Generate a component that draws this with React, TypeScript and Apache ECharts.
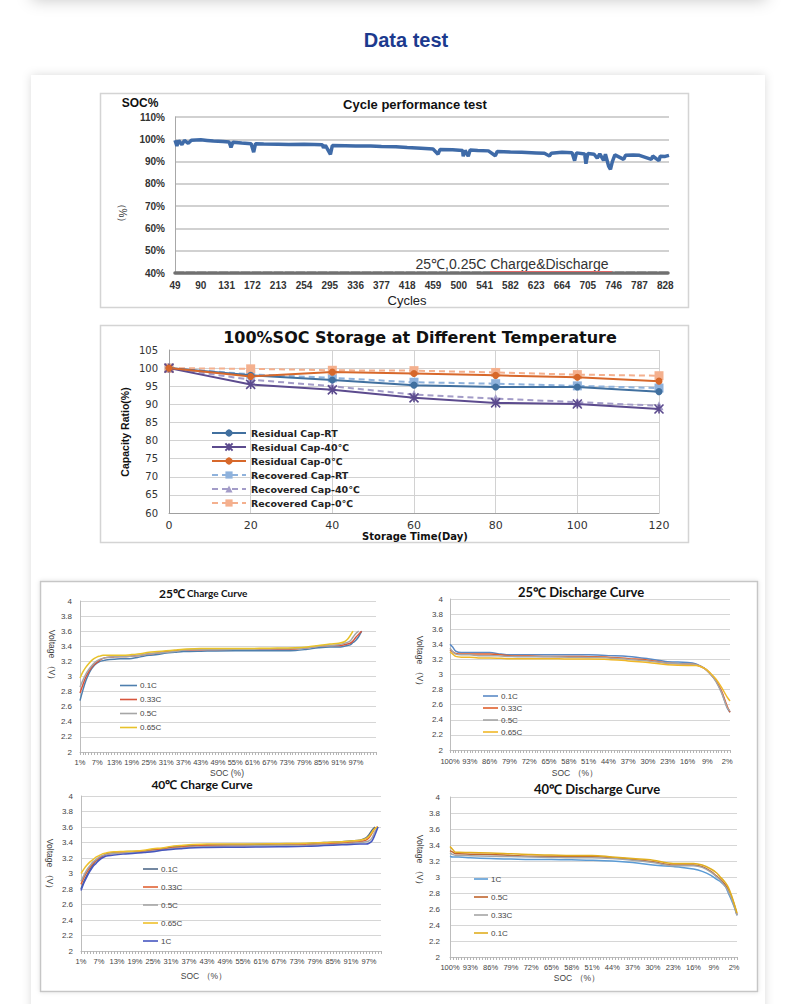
import React, { useEffect, useRef } from 'react';
import * as echarts from 'echarts';

// ---------------- fonts ----------------
const ARIAL = "'Liberation Sans', Arial, sans-serif";
const VERDANA = "'DejaVu Sans', Verdana, sans-serif";
const NARROW = "'Liberation Sans Narrow', 'Liberation Sans', sans-serif";
const CALIBRI = "Lato, 'Open Sans', sans-serif";

// ---------------- Chart 1: cycle performance ----------------
const CYCLE_FIRST = 49;
const CYCLE_LAST = 834;
const CYCLE_CATEGORIES: string[] = Array.from({ length: CYCLE_LAST - CYCLE_FIRST + 1 }, (_, i) => String(CYCLE_FIRST + i));
const CYCLE_POINTS = [49, 52, 55, 60, 64, 70, 75, 90, 100, 110, 125, 135, 138, 141, 155, 170, 174, 177, 190, 213, 230, 254, 270, 283, 285, 288, 296, 299, 320, 336, 360, 377, 400, 418, 440, 459, 467, 470, 490, 506, 507, 510, 515, 518, 530, 547, 558, 561, 582, 600, 623, 636, 644, 647, 664, 680, 684, 687, 700, 702, 705, 715, 720, 724, 730, 733, 738, 741, 744, 748, 762, 765, 777, 787, 806, 808, 818, 820, 828, 834];
const CYCLE_SOC = [99.6, 97.0, 99.4, 97.6, 99.5, 98.2, 99.6, 99.8, 99.5, 99.2, 99.0, 98.8, 96.3, 98.7, 98.3, 98.0, 94.2, 98.0, 97.9, 97.8, 97.7, 97.8, 97.7, 97.6, 96.2, 97.3, 93.2, 97.2, 97.1, 97.0, 97.0, 96.8, 96.6, 96.3, 96.0, 95.6, 93.3, 95.4, 95.3, 95.0, 92.4, 95.0, 92.4, 95.2, 95.0, 94.8, 92.6, 94.5, 94.3, 94.2, 93.9, 93.7, 92.5, 93.7, 94.2, 94.0, 90.4, 93.9, 93.4, 89.0, 93.6, 93.3, 91.5, 93.5, 90.5, 93.3, 88.0, 86.5, 90.0, 93.0, 91.0, 92.8, 93.0, 92.8, 91.0, 92.5, 90.4, 92.4, 92.3, 92.8];

// ---------------- Chart 2: storage ----------------
const STORAGE_DAYS = [0, 20, 40, 60, 80, 100, 120];
const RESIDUAL_RT = [100, 98.0, 96.7, 95.3, 94.8, 94.8, 93.5];
const RESIDUAL_40 = [100, 95.5, 94.0, 91.8, 90.4, 90.1, 88.7];
const RESIDUAL_0 = [100, 97.7, 98.9, 98.5, 98.0, 97.5, 96.4];
const RECOVERED_RT = [100, 98.3, 97.3, 96.1, 95.7, 95.1, 94.5];
const RECOVERED_40 = [100, 96.8, 95.0, 92.7, 91.6, 90.6, 89.6];
const RECOVERED_0 = [100, 99.8, 99.4, 99.3, 98.8, 98.2, 97.9];

// ---------------- Chart 3: 25C charge ----------------
const C25C_CATS = Array.from({ length: 104 }, (_, i) => `${i + 1}%`);
const C25C_LAST_LABEL = 97;
const C25C_SOC = [1, 2, 3, 4, 5, 6, 7, 8, 9, 10, 13, 16, 19, 22, 25, 28, 31, 34, 37, 43, 55, 67, 76, 80, 84, 88, 91, 93, 94, 95, 96, 97, 98, 99];
const C25C_01 = [2.68, 2.82, 2.94, 3.03, 3.10, 3.15, 3.18, 3.20, 3.21, 3.22, 3.23, 3.235, 3.24, 3.26, 3.28, 3.29, 3.31, 3.32, 3.33, 3.335, 3.34, 3.34, 3.345, 3.36, 3.38, 3.39, 3.39, 3.40, 3.41, 3.42, 3.45, 3.48, 3.53, 3.60];
const C25C_033 = [2.78, 2.89, 2.99, 3.06, 3.12, 3.16, 3.19, 3.22, 3.24, 3.25, 3.26, 3.265, 3.27, 3.28, 3.30, 3.31, 3.33, 3.34, 3.35, 3.355, 3.36, 3.36, 3.365, 3.38, 3.40, 3.41, 3.41, 3.42, 3.43, 3.44, 3.47, 3.52, 3.56, 3.60];
const C25C_05 = [2.86, 2.95, 3.03, 3.09, 3.14, 3.18, 3.21, 3.23, 3.24, 3.25, 3.26, 3.26, 3.27, 3.28, 3.30, 3.31, 3.32, 3.33, 3.35, 3.36, 3.36, 3.365, 3.37, 3.38, 3.40, 3.41, 3.42, 3.44, 3.45, 3.47, 3.52, 3.57, 3.60, null];
const C25C_065 = [2.98, 3.06, 3.12, 3.17, 3.21, 3.24, 3.26, 3.27, 3.28, 3.28, 3.28, 3.28, 3.29, 3.30, 3.32, 3.33, 3.34, 3.35, 3.36, 3.37, 3.37, 3.375, 3.38, 3.39, 3.41, 3.43, 3.44, 3.46, 3.49, 3.54, 3.60, null, null, null];

// ---------------- Chart 4: 25C discharge ----------------
const C25D_CATS = Array.from({ length: 100 }, (_, i) => `${100 - i}%`);
const C25D_SOC = [100, 99, 98, 96, 93, 90, 86, 82, 79, 72, 65, 58, 51, 44, 37, 30, 23, 16, 13, 10, 8, 6, 4, 2, 1];
const C25D_01 = [3.40, 3.36, 3.31, 3.29, 3.29, 3.29, 3.29, 3.27, 3.26, 3.26, 3.26, 3.26, 3.26, 3.25, 3.24, 3.21, 3.17, 3.16, 3.14, 3.08, 3.01, 2.92, 2.77, 2.56, 2.50];
const C25D_033 = [3.33, 3.30, 3.28, 3.27, 3.27, 3.27, 3.27, 3.26, 3.25, 3.245, 3.24, 3.24, 3.235, 3.23, 3.21, 3.19, 3.15, 3.14, 3.13, 3.08, 3.01, 2.92, 2.78, 2.58, 2.50];
const C25D_05 = [3.35, 3.30, 3.27, 3.26, 3.26, 3.25, 3.25, 3.245, 3.24, 3.235, 3.235, 3.23, 3.225, 3.22, 3.20, 3.18, 3.15, 3.14, 3.13, 3.08, 3.01, 2.91, 2.76, 2.56, 2.52];
const C25D_065 = [3.30, 3.27, 3.24, 3.23, 3.23, 3.22, 3.22, 3.215, 3.21, 3.21, 3.21, 3.205, 3.205, 3.20, 3.18, 3.16, 3.13, 3.12, 3.12, 3.08, 3.02, 2.94, 2.83, 2.70, 2.65];

// ---------------- Chart 5: 40C charge ----------------
const C40C_CATS = Array.from({ length: 101 }, (_, i) => `${i + 1}%`);
const C40C_SOC = [1, 2, 3, 4, 5, 6, 7, 8, 9, 10, 12, 15, 19, 22, 25, 28, 31, 34, 37, 43, 55, 67, 76, 82, 88, 91, 94, 96, 97, 98, 99, 100];
const C40C_01 = [2.80, 2.90, 2.98, 3.05, 3.11, 3.16, 3.19, 3.22, 3.24, 3.26, 3.27, 3.28, 3.285, 3.29, 3.31, 3.32, 3.34, 3.35, 3.36, 3.37, 3.375, 3.38, 3.385, 3.40, 3.41, 3.42, 3.43, 3.46, 3.50, 3.56, 3.60, null];
const C40C_033 = [2.86, 2.95, 3.02, 3.08, 3.13, 3.17, 3.20, 3.22, 3.24, 3.25, 3.26, 3.27, 3.275, 3.28, 3.30, 3.31, 3.33, 3.34, 3.35, 3.36, 3.36, 3.365, 3.37, 3.38, 3.39, 3.40, 3.41, 3.43, 3.46, 3.52, 3.58, 3.60];
const C40C_05 = [2.90, 2.98, 3.05, 3.10, 3.15, 3.18, 3.21, 3.23, 3.24, 3.25, 3.26, 3.265, 3.27, 3.275, 3.29, 3.30, 3.32, 3.33, 3.34, 3.35, 3.355, 3.36, 3.365, 3.37, 3.38, 3.39, 3.40, 3.41, 3.42, 3.46, 3.54, 3.60];
const C40C_065 = [3.00, 3.06, 3.11, 3.15, 3.18, 3.21, 3.23, 3.25, 3.26, 3.27, 3.28, 3.285, 3.29, 3.30, 3.32, 3.33, 3.35, 3.36, 3.37, 3.38, 3.38, 3.385, 3.39, 3.40, 3.41, 3.42, 3.43, 3.45, 3.48, 3.53, 3.58, 3.60];
const C40C_1 = [2.78, 2.88, 2.96, 3.03, 3.09, 3.13, 3.17, 3.20, 3.22, 3.23, 3.24, 3.25, 3.26, 3.27, 3.28, 3.30, 3.31, 3.32, 3.33, 3.335, 3.34, 3.345, 3.35, 3.36, 3.37, 3.375, 3.38, 3.38, 3.39, 3.42, 3.50, 3.60];

// ---------------- Chart 6: 40C discharge ----------------
const C40D_CATS = Array.from({ length: 100 }, (_, i) => `${100 - i}%`);
const C40D_SOC = [100, 99, 98, 97, 93, 86, 79, 72, 65, 58, 51, 44, 37, 30, 23, 20, 16, 13, 10, 8, 7, 5, 4, 3, 2, 1];
const C40D_1 = [3.26, 3.25, 3.25, 3.25, 3.24, 3.23, 3.225, 3.22, 3.22, 3.215, 3.21, 3.20, 3.18, 3.15, 3.13, 3.12, 3.10, 3.07, 3.02, 2.97, 2.95, 2.88, 2.80, 2.72, 2.63, 2.52];
const C40D_05 = [3.33, 3.31, 3.29, 3.29, 3.285, 3.28, 3.27, 3.26, 3.26, 3.255, 3.255, 3.24, 3.22, 3.19, 3.15, 3.15, 3.15, 3.13, 3.07, 3.01, 2.98, 2.90, 2.84, 2.76, 2.66, 2.53];
const C40D_033 = [3.30, 3.28, 3.27, 3.27, 3.265, 3.26, 3.255, 3.25, 3.245, 3.24, 3.24, 3.23, 3.21, 3.18, 3.14, 3.14, 3.14, 3.12, 3.06, 3.00, 2.97, 2.88, 2.82, 2.74, 2.64, 2.52];
const C40D_01 = [3.38, 3.34, 3.31, 3.31, 3.305, 3.30, 3.29, 3.28, 3.275, 3.27, 3.27, 3.25, 3.23, 3.21, 3.17, 3.17, 3.17, 3.15, 3.10, 3.05, 3.01, 2.93, 2.87, 2.78, 2.67, 2.55];

// ---------------- helpers ----------------
function txt(text: string, x: number, y: number, o: any = {}) {
  const align = o.align || 'center';
  return {
    type: 'text',
    x,
    y,
    rotation: o.rotation || 0,
    z: 100,
    silent: true,
    style: {
      text,
      fill: o.color || '#222',
      fontSize: o.size || 10,
      fontWeight: o.weight || 'normal',
      fontFamily: o.family || ARIAL,
      textAlign: align,
      align,
      textVerticalAlign: 'middle',
      verticalAlign: 'middle',
    },
  };
}

function smallX(gridIndex: number, cats: string[], interval: any, margin: number) {
  return {
    type: 'category',
    gridIndex,
    data: cats,
    boundaryGap: false,
    axisLine: { show: true, lineStyle: { color: '#bdbdbd', width: 1 } },
    axisTick: { show: true, interval: 0, length: 3, lineStyle: { color: '#b5b5b5' } },
    axisLabel: { interval, margin, fontSize: 7.5, color: '#444', fontFamily: NARROW },
    splitLine: { show: false },
  };
}

function smallY(gridIndex: number, margin: number) {
  return {
    type: 'value',
    gridIndex,
    min: 2,
    max: 4,
    interval: 0.2,
    axisLine: { show: true, lineStyle: { color: '#bdbdbd' } },
    axisTick: { show: false },
    axisLabel: { margin, fontSize: 8, color: '#444', fontFamily: NARROW },
    splitLine: { show: true, lineStyle: { color: '#d6d6d6', width: 1 } },
  };
}

function curve(name: string, idx: number, socs: number[], vals: (number | null)[], color: string) {
  const data: any[] = [];
  socs.forEach((s, i) => {
    if (vals[i] !== null) data.push([`${s}%`, vals[i]]);
  });
  return {
    name,
    type: 'line',
    xAxisIndex: idx,
    yAxisIndex: idx,
    data,
    symbol: 'none',
    smooth: 0.35,
    lineStyle: { color, width: 1.5 },
    itemStyle: { color },
    z: 3,
  };
}

function storage(name: string, vals: number[], color: string, symbol: string, size: number, dashed: boolean) {
  return {
    name,
    type: 'line',
    xAxisIndex: 1,
    yAxisIndex: 1,
    data: STORAGE_DAYS.map((d, i) => [d, vals[i]]),
    symbol,
    symbolSize: size,
    showSymbol: true,
    lineStyle: { color, width: 2, type: dashed ? [6, 4] : 'solid' },
    itemStyle: { color, borderColor: color, borderWidth: symbol.startsWith('path') ? 1.6 : 0 },
    z: dashed ? 3 : 4,
  };
}

const splitName = (n: string) => n.split('|')[1] || n;

function smallLegend(names: string[], left: number, firstRowCenter: number, width: number, rowStep: number) {
  const lh = 8;
  return {
    data: names,
    formatter: splitName,
    orient: 'vertical',
    left,
    top: firstRowCenter - lh / 2,
    padding: 0,
    icon: 'rect',
    itemWidth: width,
    itemHeight: 1.6,
    itemGap: rowStep - lh,
    selectedMode: false,
    textStyle: { fontSize: 8, lineHeight: lh, color: '#444', fontFamily: NARROW, padding: [0, 0, 0, -2] },
  };
}

function buildOption(): any {
  const cyclePairs = CYCLE_POINTS.map((c, i) => [String(c), CYCLE_SOC[i]]);

  const graphic: any[] = [
    // page / cards
    { type: 'rect', z: -100, silent: true, shape: { x: 32, y: -40, width: 734, height: 40 }, style: { fill: '#fff', shadowBlur: 16, shadowColor: 'rgba(0,0,0,0.22)' } },
    { type: 'rect', z: -100, silent: true, shape: { x: 31, y: 75, width: 734, height: 970 }, style: { fill: '#fff', shadowBlur: 10, shadowColor: 'rgba(0,0,0,0.14)' } },
    { type: 'rect', z: -90, silent: true, shape: { x: 100.5, y: 93.5, width: 588, height: 214 }, style: { fill: '#fff', stroke: '#d4d4d4', lineWidth: 1.5 } },
    { type: 'rect', z: -90, silent: true, shape: { x: 100.5, y: 325.5, width: 588, height: 217 }, style: { fill: '#fff', stroke: '#d4d4d4', lineWidth: 1.5 } },
    { type: 'rect', z: -90, silent: true, shape: { x: 40.5, y: 581.5, width: 717, height: 410 }, style: { fill: '#fff', stroke: '#c6c6c6', lineWidth: 1.5, shadowBlur: 4, shadowColor: 'rgba(0,0,0,0.12)' } },

    txt('Data test', 406, 40, { size: 20, weight: 'bold', color: '#1c3a8e' }),

    // chart 1
    txt('SOC%', 140, 103, { size: 12, weight: 'bold', color: '#111' }),
    txt('Cycle performance test', 415, 104, { size: 13, weight: 'bold', color: '#111' }),
    txt('（%）', 122, 213, { size: 10, rotation: -Math.PI / 2, color: '#333' }),
    txt('25℃,0.25C Charge&Discharge', 512, 264, { size: 14, color: '#333' }),
    { type: 'line', z: 100, silent: true, shape: { x1: 490, y1: 271.5, x2: 612, y2: 271.5 }, style: { stroke: '#e06666', lineWidth: 1 } },
    txt('Cycles', 407, 300, { size: 13, color: '#222' }),

    // chart 2
    txt('100%SOC Storage at Different Temperature', 420, 337, { size: 16, weight: 'bold', family: VERDANA, color: '#111' }),
    txt('Storage Time(Day)', 415, 536, { size: 10, weight: 'bold', family: VERDANA, color: '#111' }),
    txt('Capacity Ratio(%)', 125, 432, { size: 10.5, weight: 'bold', family: NARROW, rotation: Math.PI / 2, color: '#111' }),

    // chart 3
    txt('25℃', 185, 593, { size: 12, weight: 'bold', family: CALIBRI, align: 'right', color: '#111' }),
    txt('Charge Curve', 187, 593, { size: 10, weight: 'bold', family: CALIBRI, align: 'left', color: '#111' }),
    txt('Voltage （V）', 52, 657, { size: 8.5, family: NARROW, rotation: -Math.PI / 2, color: '#444' }),
    txt('SOC (%)', 227, 773, { size: 8.5, family: NARROW, color: '#444' }),

    // chart 4
    txt('25℃ Discharge Curve', 581, 592, { size: 13, weight: 'bold', family: CALIBRI, color: '#111' }),
    txt('Voltage （V）', 420, 663, { size: 8.5, family: NARROW, rotation: -Math.PI / 2, color: '#444' }),
    txt('SOC （%）', 575, 773, { size: 8.5, family: NARROW, color: '#444' }),

    // chart 5
    txt('40℃ Charge Curve', 202, 784, { size: 12, weight: 'bold', family: CALIBRI, color: '#111' }),
    txt('Voltage （V）', 50, 866, { size: 8.5, family: NARROW, rotation: -Math.PI / 2, color: '#444' }),
    txt('SOC （%）', 204, 976, { size: 8.5, family: NARROW, color: '#444' }),

    // chart 6
    txt('40℃ Discharge Curve', 597, 789, { size: 13, weight: 'bold', family: CALIBRI, color: '#111' }),
    txt('Voltage （V）', 420, 862, { size: 8.5, family: NARROW, rotation: -Math.PI / 2, color: '#444' }),
    txt('SOC （%）', 577, 978, { size: 8.5, family: NARROW, color: '#444' }),
  ];

  const grids = [
    { left: 175, top: 117, width: 494, height: 156 },
    { left: 169, top: 350, width: 490, height: 163 },
    { left: 80, top: 601, width: 296, height: 151 },
    { left: 450, top: 599, width: 280, height: 151 },
    { left: 81, top: 796, width: 300, height: 155 },
    { left: 450, top: 797, width: 287, height: 160 },
  ].map((g) => ({ ...g, show: false, containLabel: false, outerBoundsMode: 'none' }));

  const c25cInterval = (index: number) => index % 6 === 0 && index + 1 <= C25C_LAST_LABEL;

  const xAxis: any[] = [
    {
      type: 'category',
      gridIndex: 0,
      data: CYCLE_CATEGORIES,
      boundaryGap: false,
      axisLine: { show: true, lineStyle: { color: '#707070', width: 3.5, type: [9, 2] } },
      axisTick: { show: false },
      axisLabel: { interval: 40, margin: 7, fontSize: 10, fontWeight: 'bold', color: '#333', fontFamily: ARIAL },
      splitLine: { show: false },
      z: 5,
    },
    {
      type: 'value',
      gridIndex: 1,
      min: 0,
      max: 120,
      interval: 20,
      axisLine: { show: true, lineStyle: { color: '#a0a0a0' } },
      axisTick: { show: false },
      axisLabel: { margin: 7, fontSize: 11, color: '#333', fontFamily: VERDANA },
      splitLine: { show: true, lineStyle: { color: '#d2d2d2' } },
    },
    smallX(2, C25C_CATS, c25cInterval, 6),
    smallX(3, C25D_CATS, 6, 7),
    smallX(4, C40C_CATS, 5, 6),
    smallX(5, C40D_CATS, 6, 6),
  ];

  const yAxis: any[] = [
    {
      type: 'value',
      gridIndex: 0,
      min: 40,
      max: 110,
      interval: 10,
      axisLine: { show: true, lineStyle: { color: '#a8a8a8' } },
      axisTick: { show: false },
      axisLabel: { formatter: '{value}%', margin: 10, fontSize: 10, fontWeight: 'bold', color: '#333', fontFamily: ARIAL },
      splitLine: { show: true, lineStyle: { color: '#c2c2c2', width: 1.5 } },
    },
    {
      type: 'value',
      gridIndex: 1,
      min: 60,
      max: 105,
      interval: 5,
      axisLine: { show: true, lineStyle: { color: '#a0a0a0' } },
      axisTick: { show: false },
      axisLabel: { margin: 11, fontSize: 10, color: '#333', fontFamily: VERDANA },
      splitLine: { show: true, lineStyle: { color: '#d2d2d2' } },
    },
    smallY(2, 8),
    smallY(3, 7),
    smallY(4, 8),
    smallY(5, 10),
  ];

  const series: any[] = [
    {
      name: 'SOC',
      type: 'line',
      xAxisIndex: 0,
      yAxisIndex: 0,
      data: cyclePairs,
      symbol: 'none',
      lineStyle: { color: '#3f6ba8', width: 3.5 },
      itemStyle: { color: '#3f6ba8' },
      z: 3,
    },
    storage('Recovered Cap-RT', RECOVERED_RT, '#8fb2dc', 'rect', 9, true),
    storage('Recovered Cap-40℃', RECOVERED_40, '#a39cc8', 'triangle', 9, true),
    storage('Recovered Cap-0℃', RECOVERED_0, '#f4b08e', 'rect', 9, true),
    storage('Residual Cap-RT', RESIDUAL_RT, '#41709f', 'circle', 7, false),
    storage('Residual Cap-40℃', RESIDUAL_40, '#5c4b8e', 'path://M0,0L10,10M10,0L0,10M5,0L5,10', 9, false),
    storage('Residual Cap-0℃', RESIDUAL_0, '#d7682b', 'circle', 7, false),

    curve('c3|0.1C', 2, C25C_SOC, C25C_01, '#4e7fae'),
    curve('c3|0.33C', 2, C25C_SOC, C25C_033, '#d8553c'),
    curve('c3|0.5C', 2, C25C_SOC, C25C_05, '#a6a6a6'),
    curve('c3|0.65C', 2, C25C_SOC, C25C_065, '#e8c22a'),

    curve('c4|0.1C', 3, C25D_SOC, C25D_01, '#5a8ac6'),
    curve('c4|0.33C', 3, C25D_SOC, C25D_033, '#e0602c'),
    curve('c4|0.5C', 3, C25D_SOC, C25D_05, '#a6a6a6'),
    curve('c4|0.65C', 3, C25D_SOC, C25D_065, '#f0b828'),

    curve('c5|0.1C', 4, C40C_SOC, C40C_01, '#506a8a'),
    curve('c5|0.33C', 4, C40C_SOC, C40C_033, '#e06234'),
    curve('c5|0.5C', 4, C40C_SOC, C40C_05, '#a5a5a5'),
    curve('c5|0.65C', 4, C40C_SOC, C40C_065, '#efc02a'),
    curve('c5|1C', 4, C40C_SOC, C40C_1, '#4656c0'),

    curve('c6|1C', 5, C40D_SOC, C40D_1, '#5b9bd5'),
    curve('c6|0.5C', 5, C40D_SOC, C40D_05, '#c0652e'),
    curve('c6|0.33C', 5, C40D_SOC, C40D_033, '#a5a5a5'),
    curve('c6|0.1C', 5, C40D_SOC, C40D_01, '#e0ae20'),
  ];

  const legend: any[] = [
    {
      data: ['Residual Cap-RT', 'Residual Cap-40℃', 'Residual Cap-0℃', 'Recovered Cap-RT', 'Recovered Cap-40℃', 'Recovered Cap-0℃'],
      orient: 'vertical',
      left: 211,
      top: 428,
      padding: 0,
      itemWidth: 34,
      itemHeight: 9,
      itemGap: 4,
      selectedMode: false,
      textStyle: { fontSize: 9.5, lineHeight: 10, fontWeight: 'bold', color: '#222', fontFamily: VERDANA },
    },
    smallLegend(['c3|0.1C', 'c3|0.33C', 'c3|0.5C', 'c3|0.65C'], 120, 685.5, 17, 14),
    smallLegend(['c4|0.1C', 'c4|0.33C', 'c4|0.5C', 'c4|0.65C'], 483, 696, 15, 12),
    smallLegend(['c5|0.1C', 'c5|0.33C', 'c5|0.5C', 'c5|0.65C', 'c5|1C'], 143, 869, 15, 18),
    smallLegend(['c6|1C', 'c6|0.5C', 'c6|0.33C', 'c6|0.1C'], 474, 879, 14, 18),
  ];

  return {
    animation: false,
    backgroundColor: '#ffffff',
    graphic,
    grid: grids,
    xAxis,
    yAxis,
    series,
    legend,
  };
}

export default function App() {
  const ref = useRef<HTMLDivElement>(null);
  useEffect(() => {
    if (!ref.current) return;
    const chart = echarts.init(ref.current, null, { renderer: 'svg' });
    chart.setOption(buildOption());
    return () => {
      chart.dispose();
    };
  }, []);
  return <div ref={ref} style={{ position: 'absolute', left: 0, top: 0, width: 800, height: 1004 }} />;
}
